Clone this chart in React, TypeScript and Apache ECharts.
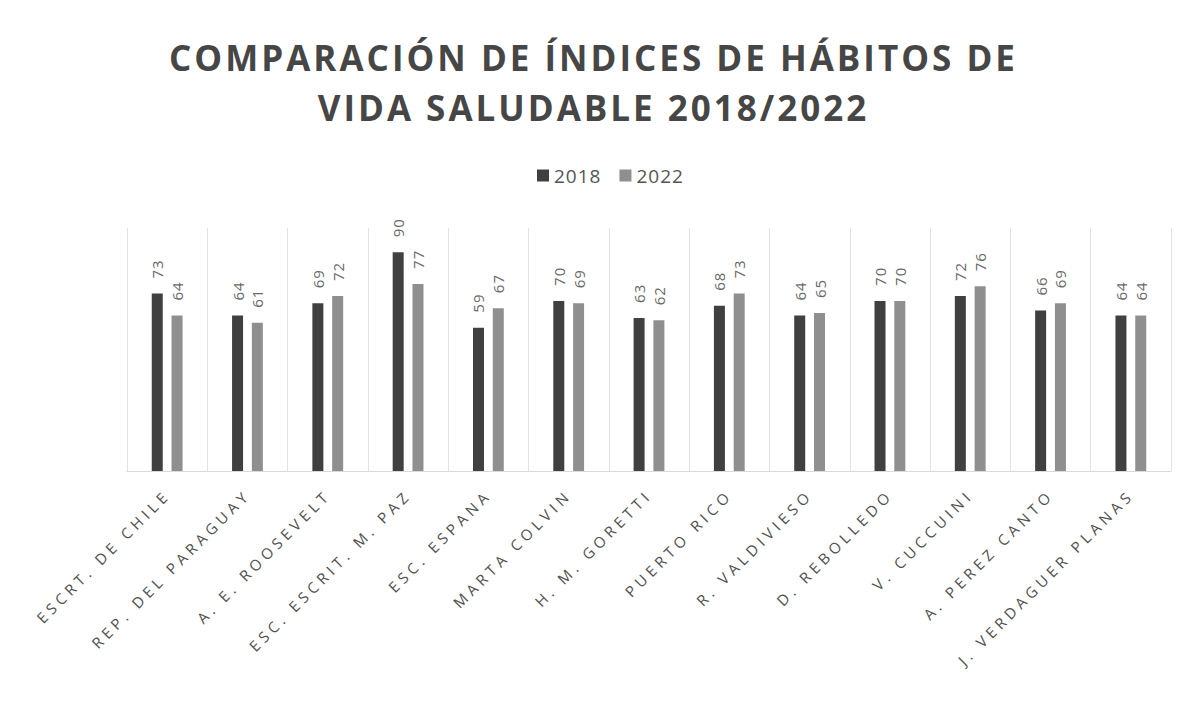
import React, { useEffect, useRef } from "react";
import * as echarts from "echarts";

const categories = [
  "ESCRT. DE CHILE",
  "REP. DEL PARAGUAY",
  "A. E. ROOSEVELT",
  "ESC. ESCRIT. M. PAZ",
  "ESC. ESPANA",
  "MARTA COLVIN",
  "H. M. GORETTI",
  "PUERTO RICO",
  "R. VALDIVIESO",
  "D. REBOLLEDO",
  "V. CUCCUINI",
  "A. PEREZ CANTO",
  "J. VERDAGUER PLANAS",
];
const values2018 = [73, 64, 69, 90, 59, 70, 63, 68, 64, 70, 72, 66, 64];
const values2022 = [64, 61, 72, 77, 67, 69, 62, 73, 65, 70, 76, 69, 64];
const seriesNames = ["2018", "2022"];
const titleText = "COMPARACIÓN DE ÍNDICES DE HÁBITOS DE\nVIDA SALUDABLE 2018/2022";

const FONT = "'Open Sans', 'Noto Sans', sans-serif";
const COLORS = ["#404040", "#8f8f8f"];
const TITLE_COLOR = "#464646";
const AXIS_LABEL_COLOR = "#505050";
const VALUE_LABEL_COLOR = "#6a6a6a";
const LEGEND_COLOR = "#555555";

const css = `
#chartwrap text[fill="${TITLE_COLOR}"] { letter-spacing: 3px; }
#chartwrap text[fill="${AXIS_LABEL_COLOR}"] { letter-spacing: 4.4px; }
#chartwrap text[fill="${VALUE_LABEL_COLOR}"] { letter-spacing: 1px; }
#chartwrap text[fill="${LEGEND_COLOR}"] { letter-spacing: 1px; }
`;

export default function App() {
  const ref = useRef<HTMLDivElement>(null);
  useEffect(() => {
    if (!ref.current) return;
    const chart = echarts.init(ref.current, undefined, { renderer: "svg" });
    const labelCfg = {
      show: true,
      position: "top",
      rotate: 90,
      align: "left",
      verticalAlign: "middle",
      distance: 15,
      color: VALUE_LABEL_COLOR,
      fontSize: 15,
      fontFamily: FONT,
    };
    chart.setOption({
      animation: false,
      backgroundColor: "#ffffff",
      color: COLORS,
      title: {
        text: titleText,
        left: "center",
        top: 27,
        textStyle: {
          fontFamily: FONT,
          fontWeight: "bold",
          fontSize: 35,
          lineHeight: 50,
          color: TITLE_COLOR,
        },
      },
      legend: {
        data: seriesNames,
        left: 532,
        top: 161,
        itemWidth: 12,
        itemHeight: 12,
        itemGap: 22,
        icon: "rect",
        textStyle: { fontFamily: FONT, fontSize: 19, color: LEGEND_COLOR },
      },
      grid: {
        left: 127,
        right: 16,
        top: 228,
        bottom: 232,
        outerBoundsMode: "none",
        containLabel: false,
      },
      xAxis: {
        type: "category",
        data: categories,
        axisLine: { show: true, lineStyle: { color: "#d9d9d9", width: 1 } },
        axisTick: { show: false },
        splitLine: { show: true, lineStyle: { color: "#e2e2e2", width: 1 } },
        axisLabel: {
          interval: 0,
          rotate: 45,
          margin: 21,
          fontFamily: FONT,
          fontSize: 15,
          color: AXIS_LABEL_COLOR,
        },
      },
      yAxis: {
        type: "value",
        min: 0,
        max: 100,
        show: false,
        splitLine: { show: false },
      },
      series: [
        {
          name: seriesNames[0],
          type: "bar",
          data: values2018,
          barWidth: 11,
          barGap: "80%",
          itemStyle: { color: COLORS[0] },
          label: labelCfg,
        },
        {
          name: seriesNames[1],
          type: "bar",
          data: values2022,
          barWidth: 11,
          itemStyle: { color: COLORS[1] },
          label: labelCfg,
        },
      ],
    });
    return () => chart.dispose();
  }, []);
  return (
    <div
      id="chartwrap"
      style={{ position: "absolute", left: 0, top: 0, width: 1187, height: 703, background: "#fff" }}
    >
      <style>{css}</style>
      <div ref={ref} style={{ width: 1187, height: 703 }} />
    </div>
  );
}
